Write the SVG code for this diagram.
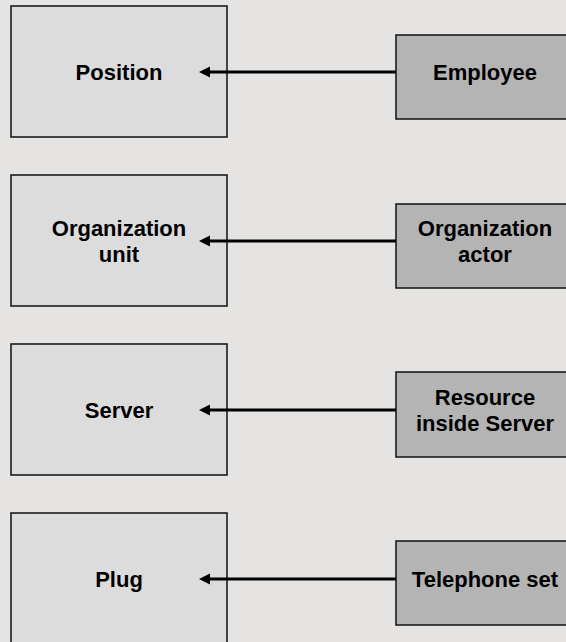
<svg xmlns="http://www.w3.org/2000/svg" width="566" height="642" viewBox="0 0 566 642">
<style>
.l{fill:#dcdcdc;stroke:#1c1c1c;stroke-width:1.6}
.r{fill:#b4b4b4;stroke:#1c1c1c;stroke-width:1.6}
text{font-family:"Liberation Sans",Arial,sans-serif;font-weight:bold;font-size:22px;fill:#000;text-anchor:middle}
.c{stroke:#000;stroke-width:3;fill:none}
</style>
<defs>
<marker id="ah" markerUnits="userSpaceOnUse" markerWidth="12" markerHeight="12" refX="5" refY="6" orient="auto" viewBox="0 0 12 12">
<path d="M11,6 L0,0.5 L0,11.5 Z" fill="#000"/>
</marker>
</defs>
<rect width="566" height="642" fill="#e5e4e2"/>
<g id="position"><rect class="l" x="11" y="6" width="216" height="131"/><text x="119" y="80">Position</text></g>
<g id="employee"><rect class="r" x="396" y="35" width="180" height="84"/><text x="485" y="80">Employee</text></g>
<g id="orgunit"><rect class="l" x="11" y="175" width="216" height="131"/><text x="119" y="236">Organization</text><text x="119" y="262">unit</text></g>
<g id="orgactor"><rect class="r" x="396" y="204" width="180" height="84"/><text x="485" y="236">Organization</text><text x="485" y="262">actor</text></g>
<g id="server"><rect class="l" x="11" y="344" width="216" height="131"/><text x="119" y="418">Server</text></g>
<g id="resource"><rect class="r" x="396" y="372" width="180" height="85"/><text x="485" y="405">Resource</text><text x="485" y="431">inside Server</text></g>
<g id="plug"><rect class="l" x="11" y="513" width="216" height="140"/><text x="119" y="587">Plug</text></g>
<g id="telephone"><rect class="r" x="396" y="541" width="180" height="84"/><text x="485" y="587">Telephone set</text></g>
<g id="connectors">
<line class="c" x1="396" y1="72" x2="205" y2="72" marker-end="url(#ah)"/>
<line class="c" x1="396" y1="241" x2="205" y2="241" marker-end="url(#ah)"/>
<line class="c" x1="396" y1="410" x2="205" y2="410" marker-end="url(#ah)"/>
<line class="c" x1="396" y1="579" x2="205" y2="579" marker-end="url(#ah)"/>
</g>
</svg>
